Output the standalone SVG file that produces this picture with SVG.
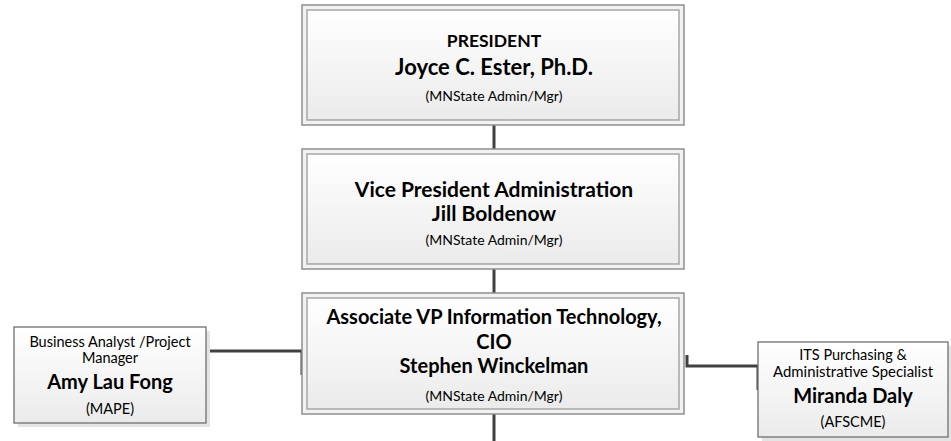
<svg xmlns="http://www.w3.org/2000/svg" width="951" height="441" viewBox="0 0 951 441">
<defs>
<linearGradient id="g" x1="0" y1="0" x2="0" y2="1">
<stop offset="0" stop-color="#ffffff"/>
<stop offset="1" stop-color="#ebebeb"/>
</linearGradient>
<style>
.outer{fill:#f2f2f2;stroke:#8f8f8f;stroke-width:1.5}
.inner{fill:url(#g);stroke:#a6a6a6;stroke-width:1.5}
.box{fill:url(#g);stroke:#6f6f6f;stroke-width:1.3}
.shadow{fill:#e4e4e4}
.conn{fill:none;stroke:#404040;stroke-width:3}
text{font-family:Lato,"Liberation Sans",sans-serif;fill:#000;text-anchor:middle}
.b{font-weight:bold;font-size:21px}
.c{font-weight:bold;font-size:20px}
.j{font-weight:bold;font-size:22px}
.t{font-weight:bold;font-size:17.5px}
.s{font-size:14px}
.n{font-weight:bold;font-size:20px}
.r{font-size:14.5px}
</style>
</defs>
<g id="connectors">
<path class="conn" d="M494,125 V149"/>
<path class="conn" d="M494,269 V293"/>
<path class="conn" d="M494,414 V441"/>
<path class="conn" d="M205,375 V351 H302 V375"/>
<path class="conn" d="M687,355 V366 H758 V390"/>
</g>
<g id="president">
<rect class="outer" x="302" y="5" width="382" height="120"/>
<rect class="inner" x="307" y="10" width="372" height="110"/>
<text class="t" x="494" y="47">PRESIDENT</text>
<text class="j" x="494" y="75">Joyce C. Ester, Ph.D.</text>
<text class="s" x="494" y="101">(MNState Admin/Mgr)</text>
</g>
<g id="vp">
<rect class="outer" x="302" y="149" width="382" height="120"/>
<rect class="inner" x="307" y="154" width="372" height="110"/>
<text class="b" x="494" y="197">Vice President Administration</text>
<text class="b" x="494" y="221">Jill Boldenow</text>
<text class="s" x="494" y="245">(MNState Admin/Mgr)</text>
</g>
<g id="cio">
<rect class="outer" x="302" y="293" width="382" height="121"/>
<rect class="inner" x="307" y="298" width="372" height="111"/>
<text class="c" x="494" y="324">Associate VP Information Technology,</text>
<text class="c" x="494" y="349">CIO</text>
<text class="c" x="494" y="373">Stephen Winckelman</text>
<text class="s" x="494" y="401">(MNState Admin/Mgr)</text>
</g>
<g id="amy">
<rect class="shadow" x="18" y="331" width="192" height="96"/>
<rect class="box" x="14" y="327" width="192" height="96"/>
<text class="r" x="110" y="347">Business Analyst /Project</text>
<text class="r" x="110" y="363">Manager</text>
<text class="n" x="110" y="389">Amy Lau Fong</text>
<text class="r" x="110" y="414">(MAPE)</text>
</g>
<g id="miranda">
<rect class="shadow" x="762" y="346" width="190" height="95"/>
<rect class="box" x="758" y="342" width="190" height="95"/>
<text class="r" x="853" y="360">ITS Purchasing &amp;</text>
<text class="r" x="853" y="377" textLength="160" lengthAdjust="spacingAndGlyphs">Administrative Specialist</text>
<text class="n" x="853" y="403">Miranda Daly</text>
<text class="r" x="853" y="427">(AFSCME)</text>
</g>
</svg>
